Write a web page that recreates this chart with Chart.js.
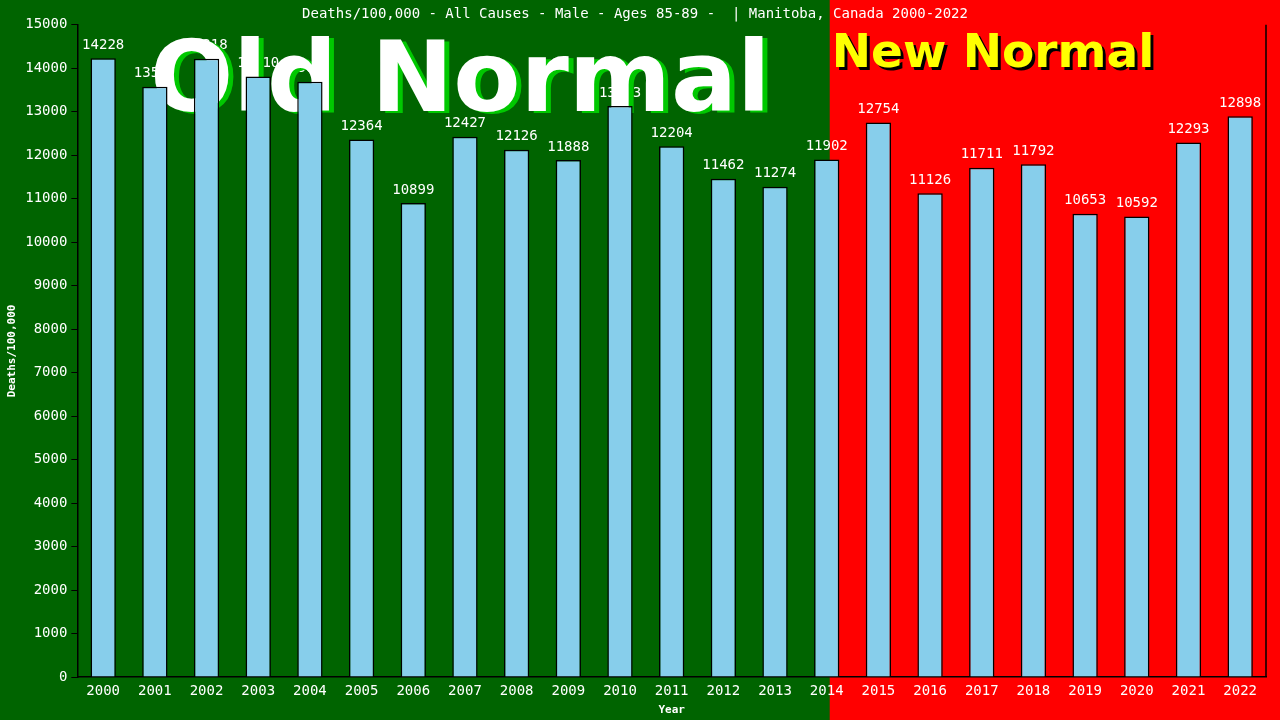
<!DOCTYPE html>
<html>
<head>
<meta charset="utf-8">
<script src="https://cdn.jsdelivr.net/npm/chart.js@4.4.1/dist/chart.umd.min.js"></script>
<style>
  html, body { margin: 0; padding: 0; background: #006400; }
  #wrap { width: 1280px; height: 720px; }
</style>
</head>
<body>
<div id="wrap"><canvas id="myChart" width="1280" height="720"></canvas></div>
<script>
// data
const years = ['2000', '2001', '2002', '2003', '2004', '2005', '2006', '2007', '2008', '2009', '2010', '2011',
               '2012', '2013', '2014', '2015', '2016', '2017', '2018', '2019', '2020', '2021', '2022'];
const deathsPer100k = [14228, 13573, 14218, 13810, 13689, 12364, 10899, 12427, 12126, 11888, 13133, 12204,
                       11462, 11274, 11902, 12754, 11126, 11711, 11792, 10653, 10592, 12293, 12898];
const yTicks = [0, 1000, 2000, 3000, 4000, 5000, 6000, 7000, 8000, 9000, 10000, 11000, 12000, 13000, 14000, 15000];
const newNormalStart = 14; // index where red "New Normal" background begins

const MONO = '"DejaVu Sans Mono", monospace';
const BIG = '"DejaVu Sans", Verdana, sans-serif';

/**
 * Background halves, big captions and value labels
 */
const decorPlugin = {
    id: 'decor',
    beforeDraw(chart) {
        const { ctx, width, height, scales } = chart;
        const split = scales.x.getPixelForValue(newNormalStart) + 3;
        ctx.save();
        ctx.fillStyle = '#006400';
        ctx.fillRect(0, 0, split, height);
        ctx.fillStyle = '#ff0000';
        ctx.fillRect(split, 0, width - split, height);
        ctx.restore();
    },
    beforeDatasetsDraw(chart) {
        const { ctx, scales } = chart;
        const meta = chart.getDatasetMeta(0);
        ctx.save();
        // value labels
        ctx.font = '14px ' + MONO;
        ctx.fillStyle = '#ffffff';
        ctx.textAlign = 'center';
        ctx.textBaseline = 'middle';
        meta.data.forEach((bar, i) => {
            ctx.fillText(String(deathsPer100k[i]), bar.x, bar.y - 13);
        });
        // Old Normal
        ctx.font = 'bold 98px ' + BIG;
        ctx.textAlign = 'left';
        ctx.textBaseline = 'alphabetic';
        ctx.fillStyle = '#00c800';
        ctx.fillText('Old Normal', 155, 113);
        ctx.fillStyle = '#ffffff';
        ctx.fillText('Old Normal', 150, 111);
        // New Normal
        const nx = scales.x.getPixelForValue(newNormalStart) + 5;
        ctx.font = 'bold 47px ' + BIG;
        ctx.fillStyle = '#000000';
        ctx.fillText('New Normal', nx + 3, 70);
        ctx.fillStyle = '#ffff00';
        ctx.fillText('New Normal', nx, 67);
        ctx.restore();
    },
    afterDraw(chart) {
        const { ctx, chartArea } = chart;
        ctx.save();
        ctx.strokeStyle = '#000000';
        ctx.lineWidth = 1.5;
        ctx.beginPath();
        ctx.moveTo(chartArea.right, chartArea.top);
        ctx.lineTo(chartArea.right, chartArea.bottom);
        ctx.stroke();
        ctx.restore();
    }
};

function initBarChart() {
    const ctx = document.getElementById('myChart').getContext('2d');
    new Chart(ctx, {
        type: 'bar',
        data: {
            labels: years,
            datasets: [{
                label: 'Deaths/100,000',
                data: deathsPer100k,
                backgroundColor: '#87ceeb',
                borderColor: '#000000',
                borderWidth: 1.5,
                borderSkipped: 'bottom',
                barPercentage: 0.49,
                categoryPercentage: 1.0
            }]
        },
        options: {
            responsive: false,
            animation: false,
            layout: { padding: { left: 4, right: 14, top: 0, bottom: 3 } },
            plugins: {
                legend: { display: false },
                tooltip: { enabled: false },
                title: {
                    display: true,
                    text: 'Deaths/100,000 - All Causes - Male - Ages 85-89 -  | Manitoba, Canada 2000-2022',
                    color: '#ffffff',
                    font: { family: MONO, size: 14, weight: 'normal' },
                    padding: { top: 6, bottom: 2 }
                }
            },
            scales: {
                y: {
                    min: 0,
                    max: 15000,
                    afterBuildTicks(axis) {
                        axis.ticks = yTicks.map(v => ({ value: v }));
                    },
                    ticks: {
                        color: '#ffffff',
                        font: { family: MONO, size: 14 },
                        padding: 4,
                        callback: v => String(v)
                    },
                    grid: {
                        drawOnChartArea: false,
                        color: '#000000',
                        tickLength: 6
                    },
                    border: { display: true, color: '#000000', width: 1.5 },
                    title: {
                        display: true,
                        text: 'Deaths/100,000',
                        color: '#ffffff',
                        font: { family: MONO, size: 11, weight: 'bold' },
                        padding: 2
                    }
                },
                x: {
                    ticks: {
                        color: '#ffffff',
                        font: { family: MONO, size: 14 },
                        padding: -2,
                        maxRotation: 0,
                        autoSkip: false
                    },
                    grid: { display: false },
                    border: { display: true, color: '#000000', width: 1.5 },
                    title: {
                        display: true,
                        text: 'Year',
                        color: '#ffffff',
                        font: { family: MONO, size: 11, weight: 'bold' },
                        padding: { top: 6, bottom: 0 }
                    }
                }
            }
        },
        plugins: [decorPlugin]
    });
}

document.addEventListener('DOMContentLoaded', initBarChart);
</script>
</body>
</html>
